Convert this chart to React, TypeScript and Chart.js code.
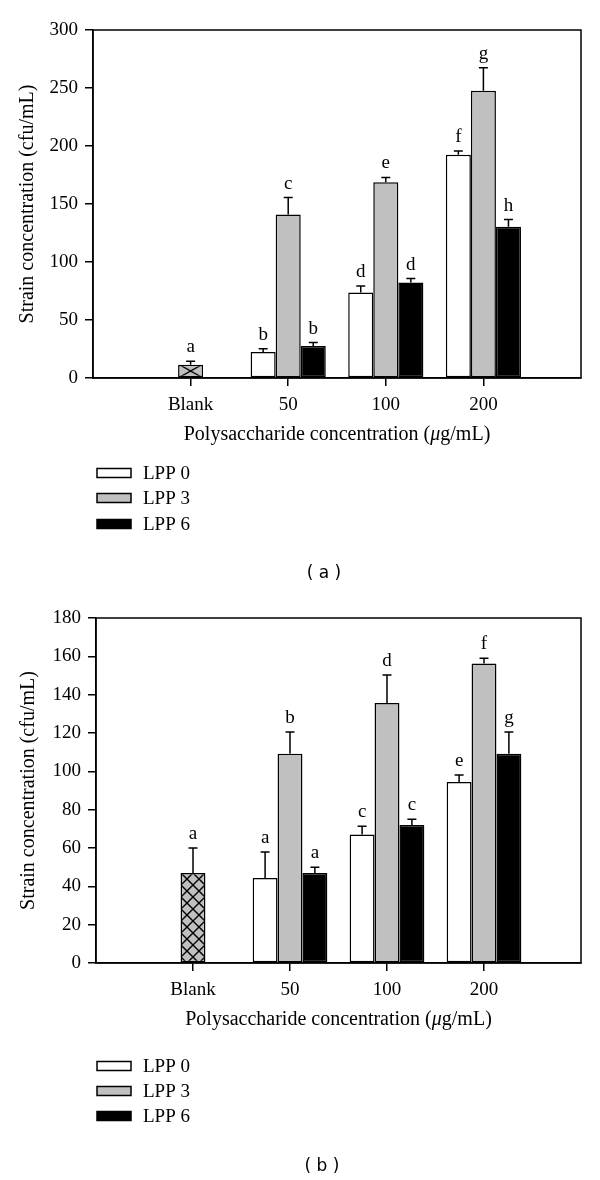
import React, { useEffect, useRef } from "react";
import { Chart, registerables } from "chart.js";
Chart.register(...registerables);

// ---------- data ----------
const categories = ["", "Blank", "50", "100", "200", ""];
const seriesNames = ["LPP 0", "LPP 3", "LPP 6"];
const seriesFill = ["#ffffff", "#c0c0c0", "#000000"];

// panel (a)
const aLPP0 = [null, null, 22.4, 73.6, 192.4, null];
const aLPP3 = [null, 11.5, 140.9, 168.8, 247.6, null];
const aLPP6 = [null, null, 27.6, 82.3, 130.3, null];
const aErr0 = [0, 0, 2.9, 5.8, 3.2, 0];
const aErr3 = [0, 2.9, 14.7, 4.1, 19.9, 0];
const aErr6 = [0, 0, 2.9, 3.4, 6.3, 0];
const aLet0 = ["", "", "b", "d", "f", ""];
const aLet3 = ["", "a", "c", "e", "g", ""];
const aLet6 = ["", "", "b", "d", "h", ""];
const aTicks = { max: 300, step: 50 };

// panel (b)
const bLPP0 = [null, null, 44.3, 67.0, 94.4, null];
const bLPP3 = [null, 47.0, 109.2, 135.7, 156.2, null];
const bLPP6 = [null, null, 47.0, 72.0, 109.2, null];
const bErr0 = [0, 0, 13.6, 4.3, 3.7, 0];
const bErr3 = [0, 13.0, 11.3, 14.6, 2.8, 0];
const bErr6 = [0, 0, 2.9, 3.0, 11.3, 0];
const bLet0 = ["", "", "a", "c", "e", ""];
const bLet3 = ["", "a", "b", "d", "f", ""];
const bLet6 = ["", "", "a", "c", "g", ""];
const bTicks = { max: 180, step: 20 };

const yTitle = "Strain concentration (cfu/mL)";
const xTitleParts = ["Polysaccharide concentration (", "\u03bc", "g/mL)"];

const SERIF = "'Liberation Serif', 'Times New Roman', serif";
const W = 600;
const H = 590;

type Layout = {
  left: number; right: number; top: number; bottom: number;
  yTitleX: number; xTitleY: number; legendY: number[]; captionY: number; captionX: number;
  hatchW: number; hatchH: number;
};

function makeHatch(w: number, h: number): CanvasPattern {
  const c = document.createElement("canvas");
  c.width = w; c.height = h;
  const g = c.getContext("2d")!;
  g.fillStyle = "#c0c0c0";
  g.fillRect(0, 0, w, h);
  g.strokeStyle = "#000";
  g.lineWidth = 1.4;
  g.beginPath();
  g.moveTo(0, 0); g.lineTo(w, h);
  g.moveTo(w, 0); g.lineTo(0, h);
  g.stroke();
  return g.createPattern(c, "repeat")!;
}

function Panel(props: {
  values: (number | null)[][]; errs: number[][]; letters: string[][];
  ticks: { max: number; step: number }; layout: Layout; caption: string;
}) {
  const ref = useRef<HTMLCanvasElement>(null);
  useEffect(() => {
    const { values, errs, letters, ticks, layout: L, caption } = props;
    const hatch = makeHatch(L.hatchW, L.hatchH);
    const xAxisH = 48;

    const decor = {
      id: "decor",
      beforeDatasetsDraw(chart: any) {
        const meta = chart.getDatasetMeta(1);
        const el = meta.data[1];
        if (el && (hatch as any).setTransform) {
          hatch.setTransform(new DOMMatrix([1, 0, 0, 1, el.x - L.hatchW / 2, chart.chartArea.bottom]));
        }
      },
      afterDraw(chart: any) {
        const ctx = chart.ctx as CanvasRenderingContext2D;
        const ca = chart.chartArea;
        const ys = chart.scales.y;
        ctx.save();
        // frame
        ctx.strokeStyle = "#000";
        ctx.lineWidth = 1.5;
        ctx.strokeRect(ca.left, ca.top, ca.right - ca.left, ca.bottom - ca.top);
        // error bars + letters
        ctx.font = `19px ${SERIF}`;
        ctx.fillStyle = "#000";
        ctx.textAlign = "center";
        ctx.textBaseline = "alphabetic";
        for (let d = 0; d < values.length; d++) {
          const meta = chart.getDatasetMeta(d);
          values[d].forEach((v, i) => {
            if (v == null) return;
            const el = meta.data[i];
            const yTop = ys.getPixelForValue(v);
            const yErr = ys.getPixelForValue(v + errs[d][i]);
            ctx.lineWidth = 1.5;
            ctx.beginPath();
            ctx.moveTo(el.x, yTop);
            ctx.lineTo(el.x, yErr);
            ctx.moveTo(el.x - 4.5, yErr);
            ctx.lineTo(el.x + 4.5, yErr);
            ctx.stroke();
            const t = letters[d][i];
            if (t) ctx.fillText(t, el.x, yErr - 9);
          });
        }
        // y title
        ctx.save();
        ctx.translate(L.yTitleX, (ca.top + ca.bottom) / 2);
        ctx.rotate(-Math.PI / 2);
        ctx.textBaseline = "middle";
        ctx.font = `20px ${SERIF}`;
        ctx.fillText(yTitle, 0, 0);
        ctx.restore();
        // x title with italic mu
        const fN = `20px ${SERIF}`;
        const fI = `italic 20px ${SERIF}`;
        ctx.font = fN;
        const w0 = ctx.measureText(xTitleParts[0]).width;
        const w2 = ctx.measureText(xTitleParts[2]).width;
        ctx.font = fI;
        const w1 = ctx.measureText(xTitleParts[1]).width;
        let x = (ca.left + ca.right) / 2 - (w0 + w1 + w2) / 2;
        ctx.textAlign = "left";
        ctx.textBaseline = "middle";
        ctx.font = fN; ctx.fillText(xTitleParts[0], x, L.xTitleY); x += w0;
        ctx.font = fI; ctx.fillText(xTitleParts[1], x, L.xTitleY); x += w1;
        ctx.font = fN; ctx.fillText(xTitleParts[2], x, L.xTitleY);
        // legend
        seriesNames.forEach((name, k) => {
          const cy = L.legendY[k];
          ctx.fillStyle = seriesFill[k];
          ctx.fillRect(97, cy - 4.5, 34, 9);
          ctx.strokeStyle = "#000";
          ctx.lineWidth = 1.5;
          ctx.strokeRect(97, cy - 4.5, 34, 9);
          ctx.fillStyle = "#000";
          ctx.font = `19px ${SERIF}`;
          ctx.textAlign = "left";
          ctx.textBaseline = "middle";
          ctx.fillText(name, 143, cy + 1);
        });
        // caption
        ctx.font = "17px 'DejaVu Sans', sans-serif";
        ctx.textAlign = "center";
        ctx.textBaseline = "middle";
        ctx.fillText(caption, L.captionX, L.captionY);
        ctx.restore();
      },
    };

    const chart = new Chart(ref.current!, {
      type: "bar",
      data: {
        labels: categories,
        datasets: values.map((vals, k) => ({
          label: seriesNames[k],
          data: vals,
          backgroundColor: k === 1
            ? vals.map((_, i) => (i === 1 ? hatch : seriesFill[1]))
            : seriesFill[k],
          borderColor: "#000",
          borderWidth: 1.5,
          borderSkipped: false,
          categoryPercentage: 0.77,
          barPercentage: 1.0,
        })) as any,
      },
      options: {
        responsive: false,
        animation: false,
        devicePixelRatio: 1,
        layout: { padding: { left: 0, right: W - L.right, top: L.top, bottom: H - L.bottom - xAxisH } },
        plugins: { legend: { display: false }, tooltip: { enabled: false } },
        scales: {
          x: {
            type: "category",
            offset: false,
            afterFit: (s: any) => { s.height = xAxisH; },
            grid: {
              offset: false,
              drawOnChartArea: false,
              drawTicks: true,
              tickLength: 8,
              lineWidth: 1.5,
              color: (c: any) => (c.index === 0 || c.index === 5 ? "rgba(0,0,0,0)" : "#000"),
            },
            border: { display: true, color: "#000", width: 1.5 },
            ticks: { color: "#000", font: { family: SERIF, size: 19 }, padding: 8, autoSkip: false, maxRotation: 0 },
          },
          y: {
            min: 0,
            max: ticks.max,
            afterFit: (s: any) => { s.width = L.left; },
            grid: { drawOnChartArea: false, drawTicks: true, tickLength: 8, lineWidth: 1.5, color: "#000" },
            border: { display: true, color: "#000", width: 1.5 },
            ticks: { stepSize: ticks.step, color: "#000", font: { family: SERIF, size: 19 }, padding: 7 },
          },
        },
      },
      plugins: [decor],
    });
    return () => chart.destroy();
  }, []);
  return <canvas ref={ref} width={W} height={H} style={{ display: "block", width: W, height: H }} />;
}

export default function App() {
  useEffect(() => {
    document.body.style.margin = "0";
  }, []);
  const layoutA: Layout = {
    left: 93, right: 581, top: 30, bottom: 378,
    yTitleX: 28, xTitleY: 435, legendY: [473, 498, 524], captionY: 574, captionX: 324,
    hatchW: 25, hatchH: 14,
  };
  const layoutB: Layout = {
    left: 96, right: 581, top: 28, bottom: 373,
    yTitleX: 29, xTitleY: 430, legendY: [476, 501, 526], captionY: 577, captionX: 322,
    hatchW: 12, hatchH: 12,
  };
  return (
    <div style={{ width: W, margin: 0 }}>
      <Panel
        values={[aLPP0, aLPP3, aLPP6]} errs={[aErr0, aErr3, aErr6]} letters={[aLet0, aLet3, aLet6]}
        ticks={aTicks} layout={layoutA} caption="( a )"
      />
      <Panel
        values={[bLPP0, bLPP3, bLPP6]} errs={[bErr0, bErr3, bErr6]} letters={[bLet0, bLet3, bLet6]}
        ticks={bTicks} layout={layoutB} caption="( b )"
      />
    </div>
  );
}
